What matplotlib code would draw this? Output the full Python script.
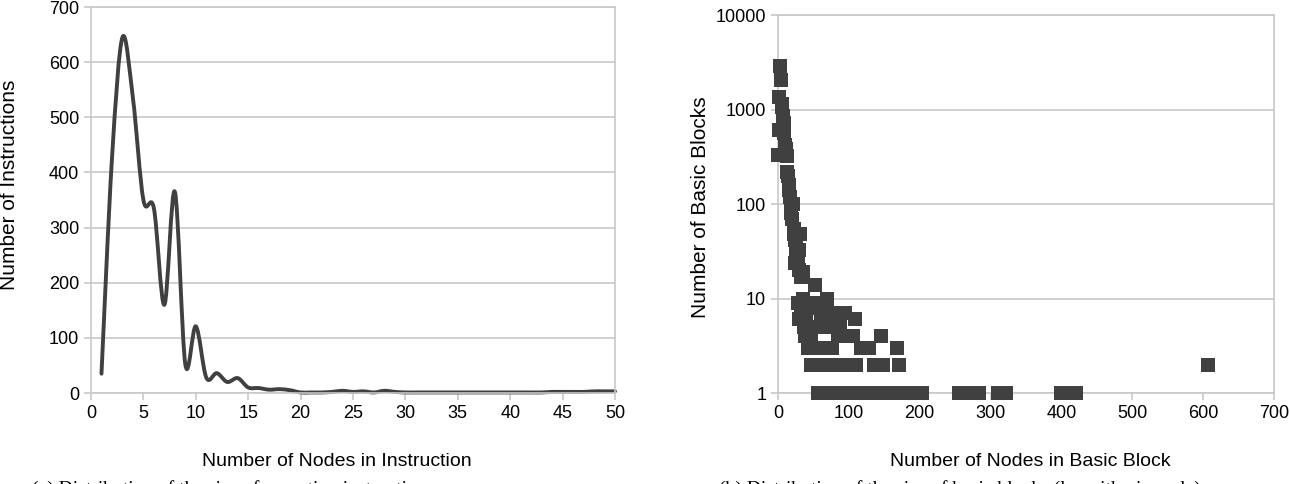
import matplotlib
matplotlib.use("Agg")
import matplotlib.pyplot as plt
from matplotlib.path import Path
from matplotlib.patches import PathPatch

plt.rcParams["font.family"] = ["Liberation Sans", "DejaVu Sans"]

# (a) instructions by number of nodes
nodes_instr = list(range(1, 51))
count_instr = [35, 425, 645, 535, 350, 335, 160, 365, 52, 121,
               28, 36, 20, 27, 10, 9, 6, 7, 5, 1,
               1, 1, 2, 4, 2, 3, 1, 4, 2, 1,
               1, 1, 1, 1, 1, 1, 1, 1, 1, 1,
               1, 1, 1, 2, 2, 2, 2, 3, 3, 3]

# (b) basic blocks by number of nodes (log scale)
bb_nodes = [0, 1, 2, 3, 4, 5, 6, 7, 8, 9, 10, 11, 12, 13, 14, 15, 16, 17,
            18, 19, 20, 21, 22, 23, 24, 25, 26, 27, 28, 29, 30, 31, 32,
            35, 24, 52, 35, 69, 41, 28,
            57, 65, 73, 81, 89, 97, 105, 113, 121, 129, 137, 145, 153, 161,
            169, 177, 185, 193, 203, 256, 265, 275, 284, 311, 322, 400, 410, 420,
            46, 54, 62, 70, 78, 86, 94, 102, 110, 136, 148, 171, 607,
            42, 50, 58, 66, 76, 117, 128, 168,
            38, 46, 85, 95, 106, 146,
            36, 55, 68, 78, 88,
            30, 40, 60, 109,
            40, 60, 72, 85, 95,
            32, 41, 69,
            30, 50]
bb_count = [330, 600, 1350, 2900, 2050, 1050, 1150, 850, 720, 560, 420, 380,
            320, 220, 200, 160, 140, 120, 95, 80, 70, 100, 55, 48, 42, 36, 30,
            28, 24, 33, 20, 48, 17,
            19, 24, 14, 10, 10, 9, 9,
            1, 1, 1, 1, 1, 1, 1, 1, 1, 1, 1, 1, 1, 1,
            1, 1, 1, 1, 1, 1, 1, 1, 1, 1, 1, 1, 1, 1,
            2, 2, 2, 2, 2, 2, 2, 2, 2, 2, 2, 2, 2,
            3, 3, 3, 3, 3, 3, 3, 3,
            4, 4, 4, 4, 4, 4,
            5, 5, 5, 5, 5,
            6, 6, 6, 6,
            7, 7, 7, 7, 7,
            8, 8, 8,
            9, 9]

dark = "#404040"
grid_c = "#c8c8c8"


def smooth_path(xs, ys):
    # excel style smoothed line: catmull-rom as cubic bezier
    pts = list(zip(xs, ys))
    verts = [pts[0]]
    codes = [Path.MOVETO]
    n = len(pts)
    for i in range(n - 1):
        p0 = pts[i - 1] if i > 0 else pts[i]
        p1 = pts[i]
        p2 = pts[i + 1]
        p3 = pts[i + 2] if i + 2 < n else pts[i + 1]
        c1 = (p1[0] + (p2[0] - p0[0]) / 6, p1[1] + (p2[1] - p0[1]) / 6)
        c2 = (p2[0] - (p3[0] - p1[0]) / 6, p2[1] - (p3[1] - p1[1]) / 6)
        verts += [c1, c2, p2]
        codes += [Path.CURVE4] * 3
    return Path(verts, codes)


def style_axes(ax):
    for s in ax.spines.values():
        s.set_color(grid_c)
        s.set_linewidth(1.2)
    ax.grid(axis="y", color=grid_c, linewidth=1.2)
    ax.set_axisbelow(True)
    ax.tick_params(colors=grid_c, labelcolor="black", labelsize=13,
                   length=5, width=1.2)
    ax.minorticks_off()


fig = plt.figure(figsize=(12.9, 4.84), dpi=100)

ax1 = fig.add_axes([91 / 1290, 1 - 393 / 484, 524 / 1290, 386 / 484])
patch = PathPatch(smooth_path(nodes_instr, count_instr), facecolor="none",
                  edgecolor=dark, linewidth=2.8, clip_on=False,
                  capstyle="round", joinstyle="round")
ax1.add_patch(patch)
ax1.set_xlim(0, 50)
ax1.set_ylim(0, 700)
ax1.set_xticks(range(0, 51, 5))
ax1.set_yticks(range(0, 701, 100))
style_axes(ax1)

ax2 = fig.add_axes([778 / 1290, 1 - 393 / 484, 496 / 1290, 378 / 484])
ax2.scatter(bb_nodes, bb_count, marker="s", s=92, color=dark,
            linewidths=0, clip_on=False, zorder=3)
ax2.set_yscale("log")
ax2.set_xlim(0, 700)
ax2.set_ylim(1, 10000)
ax2.set_xticks(range(0, 701, 100))
ax2.set_yticks([1, 10, 100, 1000, 10000])
ax2.set_yticklabels(["1", "10", "100", "1000", "10000"])
style_axes(ax2)

fig.text(337 / 1290, 1 - 462 / 484, "Number of Nodes in Instruction",
         ha="center", va="center", fontsize=14)
fig.text(1030 / 1290, 1 - 462 / 484, "Number of Nodes in Basic Block",
         ha="center", va="center", fontsize=14)
fig.text(10 / 1290, 1 - 185 / 484, "Number of Instructions",
         ha="center", va="center", rotation=90, fontsize=15)
fig.text(700 / 1290, 1 - 207 / 484, "Number of Basic Blocks",
         ha="center", va="center", rotation=90, fontsize=15)

# captions cut off at the bottom edge, as in the source
fig.text(233 / 1290, 1 - 489 / 484,
         "(a) Distribution of the size of operation instructions",
         ha="center", va="center", fontsize=14, family="Liberation Serif")
fig.text(960 / 1290, 1 - 489 / 484,
         "(b) Distribution of the size of basic blocks (logarithmic scale)",
         ha="center", va="center", fontsize=14, family="Liberation Serif")

fig.savefig("out.png", dpi=100)
